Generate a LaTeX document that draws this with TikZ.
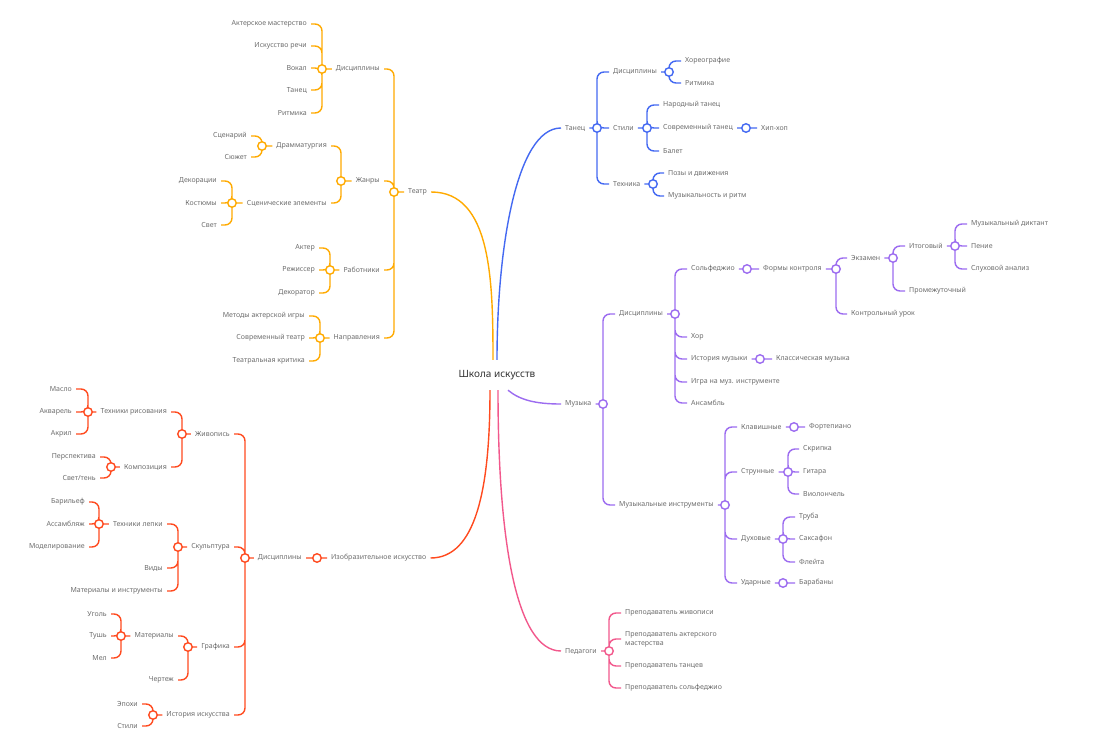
\documentclass[tikz,border=0pt]{standalone}
\usepackage{fontspec}
\setmainfont{Noto Sans}
\definecolor{cT}{HTML}{FFAA00}
\definecolor{cD}{HTML}{4469F2}
\definecolor{cM}{HTML}{9C6CF0}
\definecolor{cP}{HTML}{F2588C}
\definecolor{cI}{HTML}{FF4A1F}
\definecolor{txt}{HTML}{6E6E6E}
\definecolor{cRoot}{HTML}{333333}

\begin{document}
\begin{tikzpicture}[x=1pt,y=-1pt,
        lbl/.style={font=\fontsize{7}{8}\selectfont,text=txt,inner xsep=4pt,inner ysep=1pt},
        lbL/.style={lbl,anchor=east},
        lbR/.style={lbl,anchor=west},
        br/.style={line width=1.4pt,rounded corners=7pt},
        hub/.style={circle,draw,fill=white,line width=1.4pt,minimum size=8.5pt,inner sep=0pt}
    ]
    \fill[white] (0,0) rectangle (1112,752);
    \useasboundingbox (0,0) rectangle (1112,752);
    \node[font=\bfseries\fontsize{10}{11}\selectfont,text=cRoot,minimum width=80pt,minimum height=30pt,inner sep=0pt] (school) at (497,375) {Школа искусств};

    % Театр
    \node[lbR] (teatr) at (404,192) {Театр};
    \coordinate (hT) at (394,192);
    \node[lbL] (tDisc) at (384,69) {Дисциплины};
    \node[lbL] (tZhan) at (384,181) {Жанры};
    \node[lbL] (tRab) at (384,270) {Работники};
    \node[lbL] (tNapr) at (384,338) {Направления};
    \coordinate (hTDisc) at (322,69);
    \node[lbL] (tAkt) at (311,24) {Актерское мастерство};
    \node[lbL] (tRech) at (311,46) {Искусство речи};
    \node[lbL] (tVok) at (311,68) {Вокал};
    \node[lbL] (tTan) at (311,90) {Танец};
    \node[lbL] (tRit) at (311,113) {Ритмика};
    \coordinate (hTZhan) at (341,181);
    \node[lbL] (tDram) at (331,146) {Драмматургия};
    \node[lbL] (tScen) at (331,203) {Сценические элементы};
    \coordinate (hTDram) at (262,146);
    \node[lbL] (tScn) at (251,136) {Сценарий};
    \node[lbL] (tSuzh) at (251,157) {Сюжет};
    \coordinate (hTScen) at (232,203);
    \node[lbL] (tDek) at (221,181) {Декорации};
    \node[lbL] (tKost) at (221,203) {Костюмы};
    \node[lbL] (tSvet) at (221,225) {Свет};
    \coordinate (hTRab) at (330,270);
    \node[lbL] (tAktr) at (319,248) {Актер};
    \node[lbL] (tRezh) at (319,270) {Режиссер};
    \node[lbL] (tDekr) at (319,293) {Декоратор};
    \coordinate (hTNapr) at (320,338);
    \node[lbL] (tMet) at (309,316) {Методы актерской игры};
    \node[lbL] (tSovr) at (309,338) {Современный театр};
    \node[lbL] (tKrit) at (309,361) {Театральная критика};
    \draw[br,cT] (hT) -- (teatr.west)
        (tDisc.east) -| (hT) (tZhan.east) -| (hT) (tRab.east) -| (hT) (tNapr.east) -| (hT)
        (hTDisc) -- (tDisc.west)
        (tAkt.east) -| (hTDisc) (tRech.east) -| (hTDisc) (tVok.east) -| (hTDisc) (tTan.east) -| (hTDisc) (tRit.east) -| (hTDisc)
        (hTZhan) -- (tZhan.west)
        (tDram.east) -| (hTZhan) (tScen.east) -| (hTZhan)
        (hTDram) -- (tDram.west)
        (tScn.east) -| (hTDram) (tSuzh.east) -| (hTDram)
        (hTScen) -- (tScen.west)
        (tDek.east) -| (hTScen) (tKost.east) -| (hTScen) (tSvet.east) -| (hTScen)
        (hTRab) -- (tRab.west)
        (tAktr.east) -| (hTRab) (tRezh.east) -| (hTRab) (tDekr.east) -| (hTRab)
        (hTNapr) -- (tNapr.west)
        (tMet.east) -| (hTNapr) (tSovr.east) -| (hTNapr) (tKrit.east) -| (hTNapr);

    % Танец
    \node[lbR] (tanec) at (561,128) {Танец};
    \coordinate (hD) at (597,128);
    \node[lbR] (dDisc) at (609,72) {Дисциплины};
    \node[lbR] (dStil) at (609,128) {Стили};
    \node[lbR] (dTeh) at (609,184) {Техника};
    \coordinate (hDDisc) at (669,72);
    \node[lbR] (dHor) at (681,61) {Хореографие};
    \node[lbR] (dRit) at (681,83) {Ритмика};
    \coordinate (hDStil) at (647,128);
    \node[lbR] (dNar) at (659,105) {Народный танец};
    \node[lbR] (dSovr) at (659,128) {Современный танец};
    \node[lbR] (dBal) at (659,151) {Балет};
    \coordinate (hDSovr) at (746,128);
    \node[lbR] (dHip) at (757,128) {Хип-хоп};
    \coordinate (hDTeh) at (653,184);
    \node[lbR] (dPoz) at (664,173) {Позы и движения};
    \node[lbR] (dRitm) at (664,196) {Музыкальность и ритм};
    \draw[br,cD] (tanec.east) -- (hD)
        (dDisc.west) -| (hD) (dStil.west) -| (hD) (dTeh.west) -| (hD)
        (dDisc.east) -- (hDDisc)
        (dHor.west) -| (hDDisc) (dRit.west) -| (hDDisc)
        (dStil.east) -- (hDStil)
        (dNar.west) -| (hDStil) (dSovr.west) -| (hDStil) (dBal.west) -| (hDStil)
        (dSovr.east) -- (hDSovr) -- (dHip.west)
        (dTeh.east) -- (hDTeh)
        (dPoz.west) -| (hDTeh) (dRitm.west) -| (hDTeh);

    % Музыка
    \node[lbR] (muz) at (561,404) {Музыка};
    \coordinate (hM) at (603,404);
    \node[lbR] (mDisc) at (615,314) {Дисциплины};
    \node[lbR] (mInst) at (615,505) {Музыкальные инструменты};
    \coordinate (hMDisc) at (675,314);
    \node[lbR] (mSol) at (687,269) {Сольфеджио};
    \node[lbR] (mHor) at (687,337) {Хор};
    \node[lbR] (mIst) at (687,359) {История музыки};
    \node[lbR] (mIgr) at (687,382) {Игра на муз. инструменте};
    \node[lbR] (mAns) at (687,403) {Ансамбль};
    \coordinate (hMSol) at (747,269);
    \node[lbR] (mForm) at (759,269) {Формы контроля};
    \coordinate (hMForm) at (836,269);
    \node[lbR] (mEkz) at (847,258) {Экзамен};
    \node[lbR] (mKur) at (847,314) {Контрольный урок};
    \coordinate (hMEkz) at (893,258);
    \node[lbR] (mItog) at (905,246) {Итоговый};
    \node[lbR] (mProm) at (905,291) {Промежуточный};
    \coordinate (hMItog) at (955,246);
    \node[lbR] (mDikt) at (967,224) {Музыкальный диктант};
    \node[lbR] (mPen) at (967,246) {Пение};
    \node[lbR] (mSluh) at (967,269) {Слуховой анализ};
    \coordinate (hMIst) at (760,359);
    \node[lbR] (mKlas) at (772,359) {Классическая музыка};
    \coordinate (hMInst) at (725,505);
    \node[lbR] (mKlav) at (737,427) {Клавишные};
    \node[lbR] (mStr) at (737,472) {Струнные};
    \node[lbR] (mDuh) at (737,539) {Духовые};
    \node[lbR] (mUd) at (737,583) {Ударные};
    \coordinate (hMKlav) at (794,427);
    \node[lbR] (mFort) at (805,427) {Фортепиано};
    \coordinate (hMStr) at (788,472);
    \node[lbR] (mSkr) at (799,449) {Скрипка};
    \node[lbR] (mGit) at (799,472) {Гитара};
    \node[lbR] (mViol) at (799,494) {Виолончель};
    \coordinate (hMDuh) at (783,539);
    \node[lbR] (mTrub) at (795,517) {Труба};
    \node[lbR] (mSaks) at (795,539) {Саксафон};
    \node[lbR] (mFl) at (795,562) {Флейта};
    \coordinate (hMUd) at (783,583);
    \node[lbR] (mBar) at (795,583) {Барабаны};
    \draw[br,cM] (muz.east) -- (hM)
        (mDisc.west) -| (hM) (mInst.west) -| (hM)
        (mDisc.east) -- (hMDisc)
        (mSol.west) -| (hMDisc) (mHor.west) -| (hMDisc) (mIst.west) -| (hMDisc) (mIgr.west) -| (hMDisc) (mAns.west) -| (hMDisc)
        (mSol.east) -- (hMSol) -- (mForm.west)
        (mForm.east) -- (hMForm)
        (mEkz.west) -| (hMForm) (mKur.west) -| (hMForm)
        (mEkz.east) -- (hMEkz)
        (mItog.west) -| (hMEkz) (mProm.west) -| (hMEkz)
        (mItog.east) -- (hMItog)
        (mDikt.west) -| (hMItog) (mPen.west) -| (hMItog) (mSluh.west) -| (hMItog)
        (mIst.east) -- (hMIst) -- (mKlas.west)
        (mInst.east) -- (hMInst)
        (mKlav.west) -| (hMInst) (mStr.west) -| (hMInst) (mDuh.west) -| (hMInst) (mUd.west) -| (hMInst)
        (mKlav.east) -- (hMKlav) -- (mFort.west)
        (mStr.east) -- (hMStr)
        (mSkr.west) -| (hMStr) (mGit.west) -| (hMStr) (mViol.west) -| (hMStr)
        (mDuh.east) -- (hMDuh)
        (mTrub.west) -| (hMDuh) (mSaks.west) -| (hMDuh) (mFl.west) -| (hMDuh)
        (mUd.east) -- (hMUd) -- (mBar.west);

    % Педагоги
    \node[lbR] (ped) at (561,651) {Педагоги};
    \coordinate (hP) at (609,651);
    \node[lbR] (pZhiv) at (621,613) {Преподаватель живописи};
    \node[lbR,align=left,font=\fontsize{7}{9}\selectfont] (pAkt) at (621,639) {Преподаватель актерского\\мастерства};
    \node[lbR] (pTan) at (621,666) {Преподаватель танцев};
    \node[lbR] (pSol) at (621,688) {Преподаватель сольфеджио};
    \draw[br,cP] (ped.east) -- (hP)
        (pZhiv.west) -| (hP) (pAkt.west) -| (hP) (pTan.west) -| (hP) (pSol.west) -| (hP);

    % Изобразительное искусство
    \node[lbR] (izo) at (327,558) {Изобразительное искусство};
    \coordinate (hI) at (317,558);
    \node[lbL] (iDisc) at (306,558) {Дисциплины};
    \coordinate (hIDisc) at (245,558);
    \node[lbL] (iZhiv) at (234,434) {Живопись};
    \node[lbL] (iSkul) at (234,547) {Скульптура};
    \node[lbL] (iGraf) at (234,647) {Графика};
    \node[lbL] (iIst) at (234,715) {История искусства};
    \coordinate (hIZhiv) at (182,434);
    \node[lbL] (iTR) at (171,412) {Техники рисования};
    \node[lbL] (iKomp) at (171,467) {Композиция};
    \coordinate (hITR) at (88,412);
    \node[lbL] (iMasl) at (76,389) {Масло};
    \node[lbL] (iAkv) at (76,412) {Акварель};
    \node[lbL] (iAkr) at (76,434) {Акрил};
    \coordinate (hIKomp) at (111,467);
    \node[lbL] (iPersp) at (100,457) {Перспектива};
    \node[lbL] (iSvet) at (100,478) {Свет/тень};
    \coordinate (hISkul) at (178,547);
    \node[lbL] (iTL) at (167,524) {Техники лепки};
    \node[lbL] (iVid) at (167,568) {Виды};
    \node[lbL] (iMatI) at (167,591) {Материалы и инструменты};
    \coordinate (hITL) at (99,524);
    \node[lbL] (iBar) at (89,502) {Барильеф};
    \node[lbL] (iAss) at (89,524) {Ассамбляж};
    \node[lbL] (iMod) at (89,547) {Моделирование};
    \coordinate (hIGraf) at (188,647);
    \node[lbL] (iMat) at (178,636) {Материалы};
    \node[lbL] (iCher) at (178,680) {Чертеж};
    \coordinate (hIMat) at (121,636);
    \node[lbL] (iUg) at (111,614) {Уголь};
    \node[lbL] (iTush) at (111,636) {Тушь};
    \node[lbL] (iMel) at (111,658) {Мел};
    \coordinate (hIIst) at (153,715);
    \node[lbL] (iEp) at (142,704) {Эпохи};
    \node[lbL] (iSt) at (142,726) {Стили};
    \draw[br,cI] (hI) -- (izo.west)
        (iDisc.east) -- (hI)
        (hIDisc) -- (iDisc.west)
        (iZhiv.east) -| (hIDisc) (iSkul.east) -| (hIDisc) (iGraf.east) -| (hIDisc) (iIst.east) -| (hIDisc)
        (hIZhiv) -- (iZhiv.west)
        (iTR.east) -| (hIZhiv) (iKomp.east) -| (hIZhiv)
        (hITR) -- (iTR.west)
        (iMasl.east) -| (hITR) (iAkv.east) -| (hITR) (iAkr.east) -| (hITR)
        (hIKomp) -- (iKomp.west)
        (iPersp.east) -| (hIKomp) (iSvet.east) -| (hIKomp)
        (hISkul) -- (iSkul.west)
        (iTL.east) -| (hISkul) (iVid.east) -| (hISkul) (iMatI.east) -| (hISkul)
        (hITL) -- (iTL.west)
        (iBar.east) -| (hITL) (iAss.east) -| (hITL) (iMod.east) -| (hITL)
        (hIGraf) -- (iGraf.west)
        (iMat.east) -| (hIGraf) (iCher.east) -| (hIGraf)
        (hIMat) -- (iMat.west)
        (iUg.east) -| (hIMat) (iTush.east) -| (hIMat) (iMel.east) -| (hIMat)
        (hIIst) -- (iIst.west)
        (iEp.east) -| (hIIst) (iSt.east) -| (hIIst);

    % от центра
    \draw[line width=1.4pt,cT] ([xshift=-4pt]school.north) .. controls +(0,-80) and +(60,0) .. (teatr.east);
    \draw[line width=1.4pt,cD] (school.north) .. controls +(0,-110) and +(-45,0) .. (tanec.west);
    \draw[line width=1.4pt,cM] ([xshift=11pt]school.south) .. controls +(12,10) and +(-25,0) .. (muz.west);
    \draw[line width=1.4pt,cP] ([xshift=1pt]school.south) .. controls +(0,150) and +(-45,0) .. (ped.west);
    \draw[line width=1.4pt,cI] ([xshift=-7pt]school.south) .. controls +(0,100) and +(45,0) .. (izo.east);

    \foreach \h in {hT,hTDisc,hTZhan,hTDram,hTScen,hTRab,hTNapr} \node[hub,draw=cT] at (\h) {};
    \foreach \h in {hD,hDDisc,hDStil,hDSovr,hDTeh} \node[hub,draw=cD] at (\h) {};
    \foreach \h in {hM,hMDisc,hMSol,hMForm,hMEkz,hMItog,hMIst,hMInst,hMKlav,hMStr,hMDuh,hMUd} \node[hub,draw=cM] at (\h) {};
    \node[hub,draw=cP] at (hP) {};
    \foreach \h in {hI,hIDisc,hIZhiv,hITR,hIKomp,hISkul,hITL,hIGraf,hIMat,hIIst} \node[hub,draw=cI] at (\h) {};
\end{tikzpicture}
\end{document}
